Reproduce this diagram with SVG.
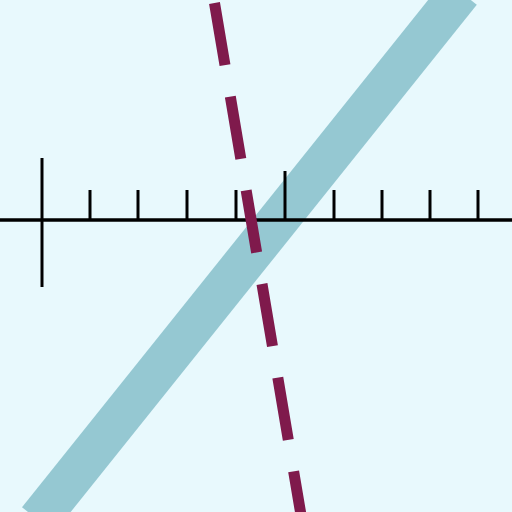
<svg xmlns="http://www.w3.org/2000/svg" width="512" height="512" viewBox="0 0 512 512">
<style>
.tick{stroke:#000;stroke-width:3;}
</style>
<rect width="512" height="512" fill="#e8f9fd"/>
<line x1="38" y1="520" x2="460.8" y2="-8" stroke="#95c8d2" stroke-width="41"/>
<g id="axis">
<line x1="0" y1="220" x2="512" y2="220" stroke="#000" stroke-width="3.5"/>
<line class="tick" x1="42" y1="158" x2="42" y2="287" stroke-width="4"/>
<line class="tick" x1="90" y1="190" x2="90" y2="220"/>
<line class="tick" x1="138" y1="190" x2="138" y2="220"/>
<line class="tick" x1="187" y1="190" x2="187" y2="220"/>
<line class="tick" x1="236" y1="190" x2="236" y2="220"/>
<line class="tick" x1="285" y1="171" x2="285" y2="220"/>
<line class="tick" x1="334" y1="190" x2="334" y2="220"/>
<line class="tick" x1="382" y1="190" x2="382" y2="220"/>
<line class="tick" x1="430" y1="190" x2="430" y2="220"/>
<line class="tick" x1="478" y1="190" x2="478" y2="220"/>
</g>
<line x1="214.5" y1="3" x2="301" y2="515" stroke="#7f1a4c" stroke-width="11" stroke-dasharray="63 32"/>
</svg>
